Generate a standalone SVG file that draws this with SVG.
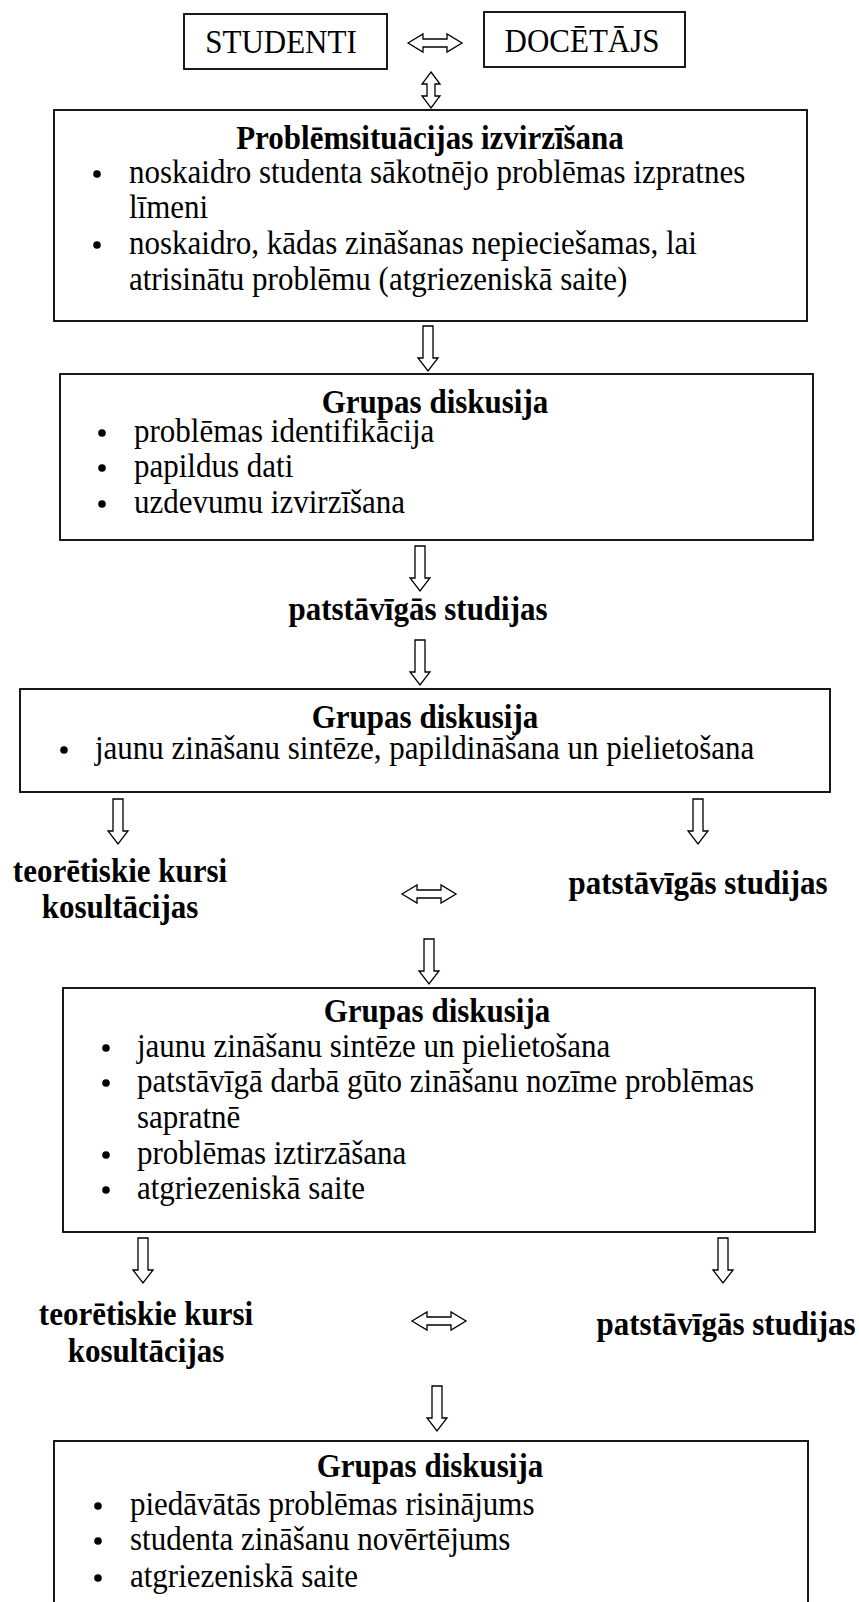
<svg xmlns="http://www.w3.org/2000/svg" xmlns:xlink="http://www.w3.org/1999/xlink" width="859" height="1602" viewBox="0 0 859 1602">
<style>
text{font-family:"Liberation Serif","Times New Roman",serif;fill:#000}
.b{font-size:31px}
.h{font-size:31px;font-weight:bold;text-anchor:middle}
.top{font-size:31px;text-anchor:middle}
.box{fill:#fff;stroke:#000;stroke-width:1.8}
.arr{fill:#fff;stroke:#000;stroke-width:1.3;stroke-linejoin:miter}
.dot{fill:#000}
</style>
<defs>
<path id="down" d="M-5,0 H5 V32 H10 L0,45 L-10,32 H-5 Z"/>
<path id="dblh" d="M-27,0 L-12,-9 V-4 H12 V-9 L27,0 L12,9 V4 H-12 V9 Z"/>
<path id="dblv" d="M0,-18 L9,-6 H4 V6 H9 L0,18 L-9,6 H-4 V-6 H-9 Z"/>
</defs>
<rect width="859" height="1602" fill="#fff"/>

<g id="connectors">
<use xlink:href="#dblh" class="arr" transform="translate(435,43)"/>
<use xlink:href="#dblv" class="arr" transform="translate(431,90)"/>
<use xlink:href="#down" class="arr" transform="translate(428,326)"/>
<use xlink:href="#down" class="arr" transform="translate(420,546)"/>
<use xlink:href="#down" class="arr" transform="translate(420,640)"/>
<use xlink:href="#down" class="arr" transform="translate(118,799)"/>
<use xlink:href="#down" class="arr" transform="translate(698,799)"/>
<use xlink:href="#dblh" class="arr" transform="translate(429,894)"/>
<use xlink:href="#down" class="arr" transform="translate(429,939)"/>
<use xlink:href="#down" class="arr" transform="translate(143,1238)"/>
<use xlink:href="#down" class="arr" transform="translate(723,1238)"/>
<use xlink:href="#dblh" class="arr" transform="translate(439,1321)"/>
<use xlink:href="#down" class="arr" transform="translate(437,1386)"/>
</g>

<g id="studenti">
<rect class="box" x="184" y="14" width="203" height="55"/>
<text class="top" transform="translate(281,53) scale(1,1.1)">STUDENTI</text>
</g>
<g id="docetajs">
<rect class="box" x="484" y="12" width="201" height="55"/>
<text class="top" transform="translate(582,52) scale(1,1.1)">DOCĒTĀJS</text>
</g>

<g id="box1">
<rect class="box" x="54" y="110" width="753" height="211"/>
<text class="h" transform="translate(430,149) scale(1,1.1)">Problēmsituācijas izvirzīšana</text>
<circle class="dot" cx="97" cy="174" r="3.8"/>
<text class="b" transform="translate(129,183) scale(1,1.1)">noskaidro studenta sākotnējo problēmas izpratnes</text>
<text class="b" transform="translate(129,218) scale(1,1.1)">līmeni</text>
<circle class="dot" cx="97" cy="245" r="3.8"/>
<text class="b" transform="translate(129,254) scale(1,1.1)">noskaidro, kādas zināšanas nepieciešamas, lai</text>
<text class="b" transform="translate(129,290) scale(1,1.1)">atrisinātu problēmu (atgriezeniskā saite)</text>
</g>

<g id="box2">
<rect class="box" x="60" y="374" width="753" height="166"/>
<text class="h" transform="translate(435,413) scale(1,1.1)">Grupas diskusija</text>
<circle class="dot" cx="102" cy="433" r="3.8"/>
<text class="b" transform="translate(134,442) scale(1,1.1)">problēmas identifikācija</text>
<circle class="dot" cx="102" cy="468" r="3.8"/>
<text class="b" transform="translate(134,477) scale(1,1.1)">papildus dati</text>
<circle class="dot" cx="102" cy="504" r="3.8"/>
<text class="b" transform="translate(134,513) scale(1,1.1)">uzdevumu izvirzīšana</text>
</g>

<g id="patst1">
<text class="h" transform="translate(418,620) scale(1,1.1)">patstāvīgās studijas</text>
</g>

<g id="box3">
<rect class="box" x="20" y="689" width="810" height="103"/>
<text class="h" transform="translate(425,728) scale(1,1.1)">Grupas diskusija</text>
<circle class="dot" cx="64" cy="750" r="3.8"/>
<text class="b" transform="translate(95,759) scale(1,1.1)">jaunu zināšanu sintēze, papildināšana un pielietošana</text>
</g>

<g id="teor1">
<text class="h" transform="translate(120,882) scale(1,1.1)">teorētiskie kursi</text>
<text class="h" transform="translate(120,918) scale(1,1.1)">kosultācijas</text>
</g>
<g id="patst2">
<text class="h" transform="translate(698,894) scale(1,1.1)">patstāvīgās studijas</text>
</g>

<g id="box4">
<rect class="box" x="63" y="988" width="752" height="244"/>
<text class="h" transform="translate(437,1022) scale(1,1.1)">Grupas diskusija</text>
<circle class="dot" cx="106" cy="1048" r="3.8"/>
<text class="b" transform="translate(137,1057) scale(1,1.1)">jaunu zināšanu sintēze un pielietošana</text>
<circle class="dot" cx="106" cy="1083" r="3.8"/>
<text class="b" transform="translate(137,1092) scale(1,1.1)">patstāvīgā darbā gūto zināšanu nozīme problēmas</text>
<text class="b" transform="translate(137,1128) scale(1,1.1)">sapratnē</text>
<circle class="dot" cx="106" cy="1155" r="3.8"/>
<text class="b" transform="translate(137,1164) scale(1,1.1)">problēmas iztirzāšana</text>
<circle class="dot" cx="106" cy="1190" r="3.8"/>
<text class="b" transform="translate(137,1199) scale(1,1.1)">atgriezeniskā saite</text>
</g>

<g id="teor2">
<text class="h" transform="translate(146,1325) scale(1,1.1)">teorētiskie kursi</text>
<text class="h" transform="translate(146,1362) scale(1,1.1)">kosultācijas</text>
</g>
<g id="patst3">
<text class="h" transform="translate(726,1335) scale(1,1.1)">patstāvīgās studijas</text>
</g>

<g id="box5">
<rect class="box" x="54" y="1441" width="754" height="180"/>
<text class="h" transform="translate(430,1477) scale(1,1.1)">Grupas diskusija</text>
<circle class="dot" cx="98" cy="1506" r="3.8"/>
<text class="b" transform="translate(130,1515) scale(1,1.1)">piedāvātās problēmas risinājums</text>
<circle class="dot" cx="98" cy="1541" r="3.8"/>
<text class="b" transform="translate(130,1550) scale(1,1.1)">studenta zināšanu novērtējums</text>
<circle class="dot" cx="98" cy="1578" r="3.8"/>
<text class="b" transform="translate(130,1587) scale(1,1.1)">atgriezeniskā saite</text>
</g>
</svg>
